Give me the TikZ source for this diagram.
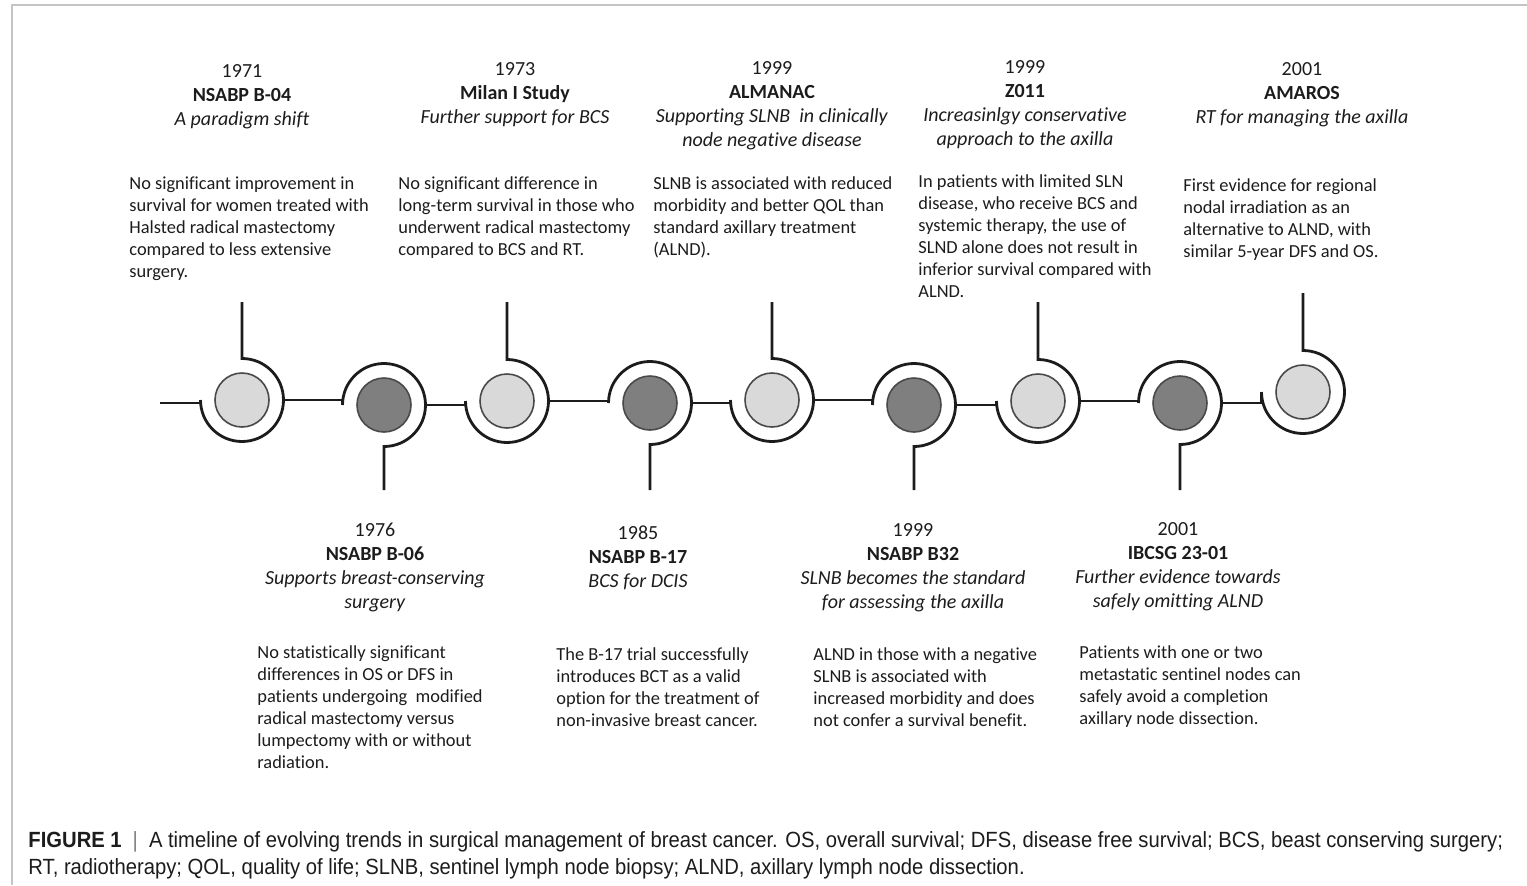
\documentclass[tikz,border=0pt]{standalone}
\usepackage{fontspec}
\setmainfont{Carlito}[Ligatures=NoCommon]
\newfontfamily\capfont[FakeStretch=0.92]{Liberation Sans}
\usetikzlibrary{calc}
\definecolor{ink}{HTML}{1C1C1C}
\definecolor{lightfill}{HTML}{D9D9D9}
\definecolor{darkfill}{HTML}{7F7F7F}
\definecolor{framegray}{HTML}{C4C4C4}
\newcommand\stackc[1]{\begin{tabular}[t]{@{}c@{}}#1\end{tabular}}
\newcommand\stackl[1]{\begin{tabular}[t]{@{}l@{}}#1\end{tabular}}
\begin{document}
\begin{tikzpicture}[x=0.5pt,y=-0.5pt,
  track/.style={line width=1.4pt, draw=ink},
  dotbase/.style={circle, draw=ink!80, line width=0.8pt, minimum size=27pt, inner sep=0pt},
  lightdot/.style={dotbase, fill=lightfill},
  darkdot/.style={dotbase, fill=darkfill},
  headtxt/.style={anchor=base, inner sep=0pt, text=ink, font=\fontsize{10}{12}\selectfont},
  bodytxt/.style={anchor=base west, inner sep=0pt, text=ink, font=\fontsize{9.2}{11}\selectfont},
  captxt/.style={anchor=base west, inner sep=0pt, text=ink, font=\capfont\fontsize{11}{13.5}\selectfont}
]
\useasboundingbox (0,0) rectangle (1527,885);
% frame
\draw[framegray, line width=1pt] (12,885) -- (12,5) -- (1527,5);

% light nodes (stem up)
\foreach \n/\x/\y/\t in {1/242/400/302, 3/507/401/302, 5/772/400/302, 7/1038/401/302, 9/1303/392/293} {
  \node[lightdot] (c\n) at (\x,\y) {};
  \coordinate (c\n l) at (\x-41.5,\y);
  \coordinate (c\n r) at (\x+41.5,\y);
  \coordinate (c\n s) at (\x,\t);
  \draw[track] (c\n l) arc[start angle=180, end angle=450, radius=20.75pt] -- (c\n s);
}
% dark nodes (stem down)
\foreach \n/\x/\y in {2/384/405, 4/650/403, 6/914/405, 8/1180/403} {
  \node[darkdot] (c\n) at (\x,\y) {};
  \coordinate (c\n l) at (\x-41.5,\y);
  \coordinate (c\n r) at (\x+41.5,\y);
  \coordinate (c\n s) at (\x,490);
  \draw[track] (c\n l) arc[start angle=180, end angle=-90, radius=20.75pt] -- (c\n s);
}
\coordinate (s0) at (160,403);
\draw[track] (s0) -| (c1l);
\draw[track] (c1r) -| (c2l);
\draw[track] (c2r) -| (c3l);
\draw[track] (c3r) -| (c4l);
\draw[track] (c4r) -| (c5l);
\draw[track] (c5r) -| (c6l);
\draw[track] (c6r) -| (c7l);
\draw[track] (c7r) -| (c8l);
\draw[track] (c8r) -| (c9l);

% top headings
\node[headtxt] (h1) at (242,77) {\stackc{1971\\\textbf{NSABP B-04}\\\textit{A paradigm shift}}};
\node[headtxt] (h2) at (515,75) {\stackc{1973\\\textbf{Milan I Study}\\\textit{Further support for BCS}}};
\node[headtxt] (h3) at (772,74) {\stackc{1999\\\textbf{ALMANAC}\\\textit{Supporting SLNB\ \ in clinically}\\\textit{node negative disease}}};
\node[headtxt] (h4) at (1025,73) {\stackc{1999\\\textbf{Z011}\\\textit{Increasinlgy conservative}\\\textit{approach to the axilla}}};
\node[headtxt] (h5) at (1302,75) {\stackc{2001\\\textbf{AMAROS}\\\textit{RT for managing the axilla}}};
% bottom headings
\node[headtxt] (h6) at (375,536) {\stackc{1976\\\textbf{NSABP B-06}\\\textit{Supports breast-conserving}\\\textit{surgery}}};
\node[headtxt] (h7) at (638,539) {\stackc{1985\\\textbf{NSABP B-17}\\\textit{BCS for DCIS}}};
\node[headtxt] (h8) at (913,536) {\stackc{1999\\\textbf{NSABP B32}\\\textit{SLNB becomes the standard}\\\textit{for assessing the axilla}}};
\node[headtxt] (h9) at (1178,535) {\stackc{2001\\\textbf{IBCSG 23-01}\\\textit{Further evidence towards}\\\textit{safely omitting ALND}}};

% top bodies
\node[bodytxt] (b1) at (129,189) {\stackl{No significant improvement in\\survival for women treated with\\Halsted radical mastectomy\\compared to less extensive\\surgery.}};
\node[bodytxt] (b2) at (398,189) {\stackl{No significant difference in\\long-term survival in those who\\underwent radical mastectomy\\compared to BCS and RT.}};
\node[bodytxt] (b3) at (653,189) {\stackl{SLNB is associated with reduced\\morbidity and better QOL than\\standard axillary treatment\\(ALND).}};
\node[bodytxt] (b4) at (918,187) {\stackl{In patients with limited SLN\\disease, who receive BCS and\\systemic therapy, the use of\\SLND alone does not result in\\inferior survival compared with\\ALND.}};
\node[bodytxt] (b5) at (1183,191) {\stackl{First evidence for regional\\nodal irradiation as an\\alternative to ALND, with\\similar 5-year DFS and OS.}};
% bottom bodies
\node[bodytxt] (b6) at (257,658) {\stackl{No statistically significant\\differences in OS or DFS in\\patients undergoing\ \ modified\\radical mastectomy versus\\lumpectomy with or without\\radiation.}};
\node[bodytxt] (b7) at (556,660) {\stackl{The B-17 trial successfully\\introduces BCT as a valid\\option for the treatment of\\non-invasive breast cancer.}};
\node[bodytxt] (b8) at (813,660) {\stackl{ALND in those with a negative\\SLNB is associated with\\increased morbidity and does\\not confer a survival benefit.}};
\node[bodytxt] (b9) at (1079,658) {\stackl{Patients with one or two\\metastatic sentinel nodes can\\safely avoid a completion\\axillary node dissection.}};

% caption
\node[captxt] (cap) at (28,847) {\stackl{\textbf{FIGURE 1}\enspace{\color{gray}|}\enspace A timeline of evolving trends in surgical management of breast cancer. OS, overall survival; DFS, disease free survival; BCS, beast conserving surgery;\\RT, radiotherapy; QOL, quality of life; SLNB, sentinel lymph node biopsy; ALND, axillary lymph node dissection.}};
\end{tikzpicture}
\end{document}
